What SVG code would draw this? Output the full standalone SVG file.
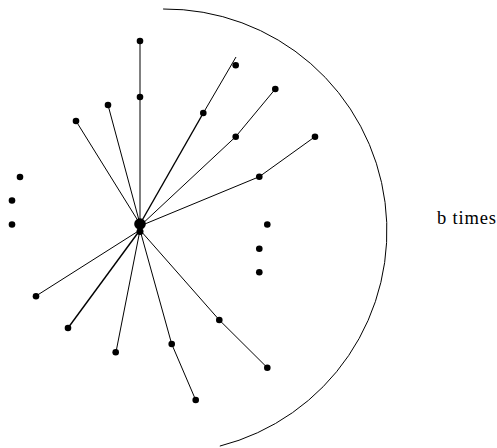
<svg xmlns="http://www.w3.org/2000/svg" width="497" height="448" viewBox="0 0 497 448">
<style>
.e{stroke:#000;stroke-width:1;fill:none}
.t{stroke:#000;stroke-width:1.4;fill:none}
.d{fill:#000}
.lbl{font-family:"Liberation Serif","DejaVu Serif",serif;font-size:18.5px;fill:#000}
</style>
<rect width="497" height="448" fill="#fff"/>
<g id="connectors">
<line class="e" x1="140" y1="224" x2="140" y2="41"/>
<line class="e" x1="140" y1="224" x2="108" y2="105"/>
<line class="e" x1="140" y1="224" x2="76" y2="121"/>
<line class="t" x1="140" y1="224" x2="203.3" y2="113"/>
<line class="e" x1="203.3" y1="113" x2="236" y2="57"/>
<polyline class="e" points="140,226 235.7,136.7 275.3,89"/>
<polyline class="e" points="140,226 259.3,176.7 315,136.7"/>
<line class="e" x1="140" y1="230" x2="36" y2="296"/>
<line class="t" x1="140" y1="230" x2="68" y2="328"/>
<line class="e" x1="140" y1="230" x2="116" y2="352"/>
<polyline class="e" points="140,230 171.7,344 195.7,400"/>
<polyline class="e" points="140,230 219.3,320 267.3,367.7"/>
<path id="arc" class="e" d="M163.1,9 A222,222 0 0 1 219.8,446.1"/>
</g>
<g id="hub"><circle class="d" cx="140" cy="224" r="5.8"/><circle class="d" cx="140" cy="231.5" r="3.5"/></g>
<g id="n1"><circle class="d" cx="140" cy="41" r="3.3"/></g>
<g id="n2"><circle class="d" cx="140" cy="97" r="3.3"/></g>
<g id="n3"><circle class="d" cx="108" cy="105" r="3.3"/></g>
<g id="n4"><circle class="d" cx="76" cy="121" r="3.3"/></g>
<g id="n5"><circle class="d" cx="20" cy="177" r="3.3"/></g>
<g id="n6"><circle class="d" cx="12" cy="200.5" r="3.3"/></g>
<g id="n7"><circle class="d" cx="12" cy="224.5" r="3.3"/></g>
<g id="n8"><circle class="d" cx="235.7" cy="65.3" r="3.3"/></g>
<g id="n9"><circle class="d" cx="203.3" cy="113" r="3.3"/></g>
<g id="n10"><circle class="d" cx="275.3" cy="89" r="3.3"/></g>
<g id="n11"><circle class="d" cx="235.7" cy="136.7" r="3.3"/></g>
<g id="n12"><circle class="d" cx="315" cy="136.7" r="3.3"/></g>
<g id="n13"><circle class="d" cx="259.3" cy="176.7" r="3.3"/></g>
<g id="n14"><circle class="d" cx="267.3" cy="224.5" r="3.3"/></g>
<g id="n15"><circle class="d" cx="259.3" cy="248.7" r="3.3"/></g>
<g id="n16"><circle class="d" cx="259.3" cy="272.3" r="3.3"/></g>
<g id="n17"><circle class="d" cx="219.3" cy="320" r="3.3"/></g>
<g id="n18"><circle class="d" cx="267.3" cy="367.7" r="3.3"/></g>
<g id="n19"><circle class="d" cx="171.7" cy="344" r="3.3"/></g>
<g id="n20"><circle class="d" cx="195.7" cy="400" r="3.3"/></g>
<g id="n21"><circle class="d" cx="36" cy="296.3" r="3.3"/></g>
<g id="n22"><circle class="d" cx="68" cy="328" r="3.3"/></g>
<g id="n23"><circle class="d" cx="115.7" cy="352.3" r="3.3"/></g>
<g id="label"><text class="lbl" x="437" y="224" textLength="59" lengthAdjust="spacing">b times</text></g>
</svg>
